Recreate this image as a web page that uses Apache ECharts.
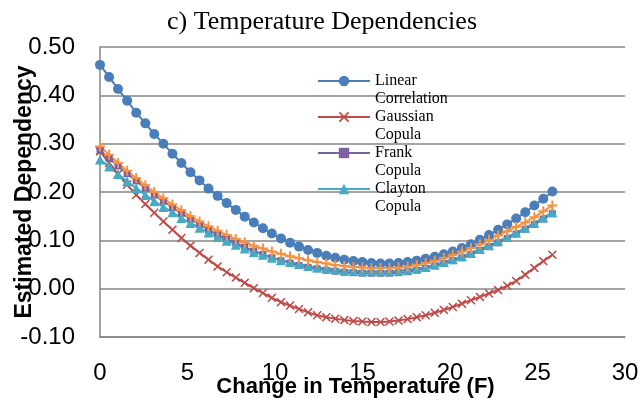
<!DOCTYPE html>
<html>
<head>
<meta charset="utf-8">
<script src="https://cdn.jsdelivr.net/npm/echarts@6/dist/echarts.min.js"></script>
<style>
  html, body { margin: 0; padding: 0; background: #fff; }
  #chart { width: 644px; height: 404px; }
</style>
</head>
<body>
<div id="chart"></div>
<script>
// Change in temperature (F) for each estimate
const tempChange = [
  0, 0.52, 1.03, 1.55, 2.07, 2.59, 3.10, 3.62, 4.14, 4.65,
  5.17, 5.69, 6.20, 6.72, 7.24, 7.76, 8.27, 8.79, 9.31, 9.82,
  10.34, 10.86, 11.37, 11.89, 12.41, 12.93, 13.44, 13.96, 14.48, 14.99,
  15.51, 16.03, 16.54, 17.06, 17.58, 18.10, 18.61, 19.13, 19.65, 20.16,
  20.68, 21.20, 21.71, 22.23, 22.75, 23.27, 23.78, 24.30, 24.82, 25.33,
  25.85
];

const linearCorrelation = [
  0.463, 0.438, 0.413, 0.389, 0.364, 0.342, 0.320, 0.300, 0.279, 0.260,
  0.241, 0.224, 0.207, 0.192, 0.177, 0.163, 0.149, 0.137, 0.125, 0.114,
  0.104, 0.095, 0.087, 0.080, 0.074, 0.068, 0.064, 0.060, 0.057, 0.055,
  0.053, 0.052, 0.052, 0.053, 0.055, 0.058, 0.062, 0.066, 0.071, 0.077,
  0.084, 0.092, 0.101, 0.111, 0.122, 0.133, 0.145, 0.158, 0.172, 0.186,
  0.201
];

const gaussianCopula = [
  0.284, 0.260, 0.237, 0.215, 0.194, 0.175, 0.157, 0.139, 0.122, 0.105,
  0.089, 0.074, 0.060, 0.046, 0.034, 0.023, 0.012, 0.001, -0.009, -0.019,
  -0.028, -0.035, -0.042, -0.049, -0.055, -0.059, -0.062, -0.065, -0.067, -0.068,
  -0.069, -0.069, -0.068, -0.066, -0.063, -0.059, -0.055, -0.050, -0.044, -0.038,
  -0.031, -0.024, -0.017, -0.010, -0.003, 0.006, 0.016, 0.029, 0.043, 0.057,
  0.070
];

const frankCopula = [
  0.286, 0.270, 0.254, 0.238, 0.223, 0.208, 0.194, 0.181, 0.168, 0.156,
  0.144, 0.133, 0.122, 0.112, 0.103, 0.094, 0.086, 0.078, 0.071, 0.064,
  0.058, 0.053, 0.048, 0.044, 0.041, 0.038, 0.036, 0.034, 0.033, 0.032,
  0.032, 0.032, 0.032, 0.033, 0.035, 0.038, 0.042, 0.047, 0.052, 0.058,
  0.064, 0.071, 0.079, 0.087, 0.095, 0.104, 0.113, 0.123, 0.133, 0.144,
  0.155
];

const claytonCopula = [
  0.267, 0.253, 0.237, 0.222, 0.208, 0.194, 0.181, 0.169, 0.158, 0.146,
  0.136, 0.126, 0.116, 0.107, 0.099, 0.091, 0.083, 0.076, 0.070, 0.064,
  0.059, 0.055, 0.051, 0.047, 0.044, 0.042, 0.040, 0.038, 0.037, 0.036,
  0.036, 0.036, 0.036, 0.037, 0.039, 0.042, 0.045, 0.050, 0.055, 0.061,
  0.067, 0.074, 0.082, 0.090, 0.098, 0.107, 0.116, 0.126, 0.136, 0.147,
  0.158
];

const gumbelCopula = [
  0.294, 0.277, 0.260, 0.244, 0.229, 0.214, 0.200, 0.187, 0.174, 0.162,
  0.150, 0.139, 0.129, 0.120, 0.111, 0.103, 0.096, 0.089, 0.083, 0.077,
  0.072, 0.067, 0.063, 0.059, 0.055, 0.052, 0.049, 0.047, 0.045, 0.044,
  0.043, 0.043, 0.043, 0.044, 0.046, 0.049, 0.053, 0.058, 0.064, 0.070,
  0.077, 0.084, 0.092, 0.101, 0.110, 0.119, 0.128, 0.137, 0.148, 0.160,
  0.172
];

const yTicks = { min: -0.1, max: 0.5, step: 0.1 };
const xTicks = { min: 0, max: 30, step: 5 };

const seriesNames = [
  'Linear Correlation',
  'Gaussian Copula',
  'Frank Copula',
  'Clayton Copula',
  'Gumbel Copula'
];

// Filled cross and plus glyphs for the marker shapes
const crossPath = 'path://M0,1.2 L1.2,0 L5,3.8 L8.8,0 L10,1.2 L6.2,5 L10,8.8 L8.8,10 L5,6.2 L1.2,10 L0,8.8 L3.8,5 Z';
const plusPath = 'path://M4,0 H6 V4 H10 V6 H6 V10 H4 V6 H0 V4 H4 Z';

function pairs(ys) {
  return tempChange.map((x, i) => [x, ys[i]]);
}

function lineSeries(name, ys, color, symbol, size) {
  return {
    name: name,
    type: 'line',
    data: pairs(ys),
    symbol: symbol,
    symbolSize: size,
    showSymbol: true,
    lineStyle: { color: color, width: 2 },
    itemStyle: { color: color },
    emphasis: { disabled: true },
    animation: false
  };
}

const chart = echarts.init(document.getElementById('chart'), null, { renderer: 'canvas' });

const axisGray = '#868686';

chart.setOption({
  backgroundColor: '#ffffff',
  animation: false,
  title: {
    text: 'c) Temperature Dependencies',
    left: 'center',
    top: 4,
    textStyle: {
      fontFamily: 'Liberation Serif',
      fontSize: 26,
      fontWeight: 'normal',
      color: '#000'
    }
  },
  grid: {
    left: 100,
    right: 19,
    top: 47,
    bottom: 67,
    containLabel: false,
    outerBoundsMode: 'none'
  },
  legend: {
    data: seriesNames.slice(0, 4),
    orient: 'vertical',
    left: 317,
    top: 54,
    padding: 0,
    itemGap: -18,
    itemWidth: 52,
    itemHeight: 13,
    // blank first line keeps the marker level with the first word
    formatter: name => '\n' + name.replace(' ', '\n'),
    textStyle: {
      fontFamily: 'Liberation Serif',
      fontSize: 16,
      lineHeight: 18,
      color: '#000'
    }
  },
  xAxis: {
    type: 'value',
    min: xTicks.min,
    max: xTicks.max,
    interval: xTicks.step,
    name: 'Change in Temperature (F)',
    nameLocation: 'middle',
    nameGap: 39,
    nameMoveOverlap: false,
    nameTextStyle: {
      fontFamily: 'Liberation Sans',
      fontWeight: 'bold',
      fontSize: 22,
      color: '#000',
      padding: [0, 14, 0, 0]
    },
    axisLine: { onZero: false, lineStyle: { color: axisGray, width: 1.5 } },
    axisTick: { show: false },
    splitLine: { show: false },
    axisLabel: {
      margin: 24,
      fontFamily: 'Liberation Sans',
      fontSize: 24,
      color: '#000'
    }
  },
  yAxis: {
    type: 'value',
    min: yTicks.min,
    max: yTicks.max,
    interval: yTicks.step,
    name: 'Estimated Dependency',
    nameLocation: 'middle',
    nameGap: 64,
    nameMoveOverlap: false,
    nameTextStyle: {
      fontFamily: 'Liberation Sans',
      fontWeight: 'bold',
      fontSize: 23,
      color: '#000'
    },
    axisLine: { show: true, lineStyle: { color: axisGray, width: 1.5 } },
    axisTick: { show: false },
    splitLine: { show: true, lineStyle: { color: axisGray, width: 1.5 } },
    axisLabel: {
      margin: 25,
      fontFamily: 'Liberation Sans',
      fontSize: 24,
      color: '#000',
      formatter: v => v.toFixed(2)
    }
  },
  series: [
    lineSeries(seriesNames[0], linearCorrelation, '#4a7ebb', 'circle', 10),
    lineSeries(seriesNames[1], gaussianCopula, '#be4b48', crossPath, 9),
    lineSeries(seriesNames[2], frankCopula, '#7d60a0', 'rect', 7),
    lineSeries(seriesNames[3], claytonCopula, '#46aac5', 'triangle', 10),
    lineSeries(seriesNames[4], gumbelCopula, '#f69240', plusPath, 10)
  ]
});
</script>
</body>
</html>
